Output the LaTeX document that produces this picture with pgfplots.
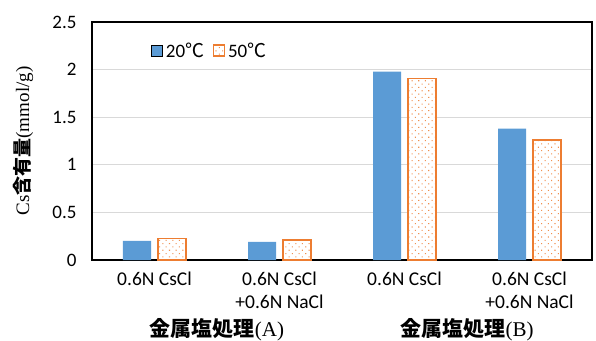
\documentclass[border=0pt]{standalone}
\usepackage{pgfplots}
\pgfplotsset{compat=1.18}
\usetikzlibrary{patterns.meta}
\usepackage{fontspec}
\setmainfont{Liberation Serif}
\newfontfamily\carl{Carlito}
\newfontfamily\cjk{Noto Sans CJK JP}
\definecolor{cblue}{HTML}{5B9BD5}
\definecolor{corange}{HTML}{ED7D31}
\definecolor{cgrid}{HTML}{D9D9D9}
\begin{document}
\begin{tikzpicture}
\path[use as bounding box] (-92pt,-80pt) rectangle (504pt,260pt);
\begin{axis}[
  at={(0,0)}, anchor=south west,
  scale only axis, width=500pt, height=238pt,
  clip=false,
  ybar=7pt, bar width=28pt,
  xmin=-0.5, xmax=3.5, ymin=0, ymax=2.5,
  xtick={0,1,2,3},
  xticklabels={0.6N CsCl, {0.6N CsCl\\+0.6N NaCl}, 0.6N CsCl, {0.6N CsCl\\+0.6N NaCl}},
  xticklabel style={align=center, font=\carl\fontsize{19.5}{23.5}\selectfont, anchor=north, yshift=-8pt},
  ytick={0,0.5,1,1.5,2,2.5},
  yticklabels={0,0.5,1,1.5,2,2.5},
  yticklabel style={font=\carl\fontsize{19}{22}\selectfont, xshift=-12pt},
  major tick length=0pt,
  ymajorgrids, grid style={cgrid, line width=0.8pt},
  axis line style={black, line width=1.5pt},
  ylabel={Cs{\cjk\bfseries 含有量}(mmol/g)},
  ylabel style={at={(axis description cs:-0.138,0.5)}, anchor=center, font=\fontsize{19}{22}\selectfont},
  legend columns=2,
  legend style={draw=none, fill=none, at={(0.112,0.88)}, anchor=west,
    font=\carl\fontsize{19}{22}\selectfont, nodes={inner xsep=3pt},
    /tikz/every even column/.append style={column sep=6pt}},
  legend image code/.code={\draw[#1, line width=0.8pt] (-3pt,-5.5pt) rectangle (8pt,5.5pt);},
]
\addplot[fill=cblue, draw=none] coordinates {(0,0.20) (1,0.19) (2,1.98) (3,1.38)};
\addplot[draw=corange, line width=1.2pt, preaction={fill=white},
  pattern={Dots[distance=4.7pt, angle=45, radius=0.75pt]}, pattern color=corange!85]
  coordinates {(0,0.23) (1,0.21) (2,1.91) (3,1.26)};
\legend{20{\cjk ℃}, 50{\cjk ℃}}
\node[font=\fontsize{21}{23}\selectfont, inner ysep=0pt] at (axis cs:0.5,0) [yshift=-70pt] {{\cjk\bfseries 金属塩処理}(A)};
\node[font=\fontsize{21}{23}\selectfont, inner ysep=0pt] at (axis cs:2.5,0) [yshift=-70pt] {{\cjk\bfseries 金属塩処理}(B)};
\end{axis}
\end{tikzpicture}
\end{document}
